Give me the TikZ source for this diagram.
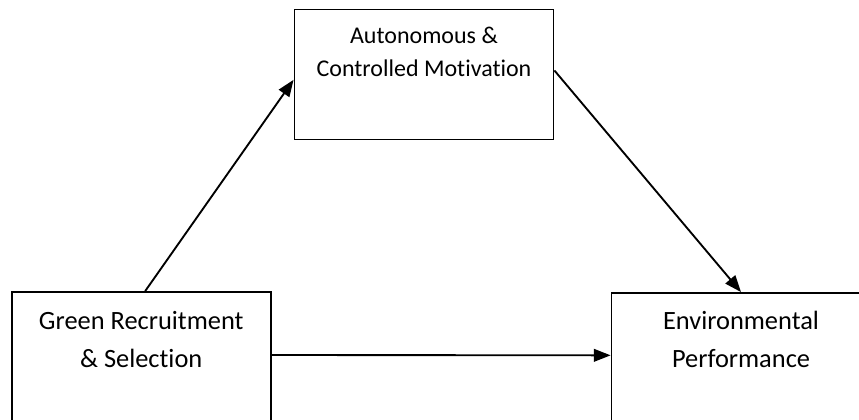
\documentclass[tikz,border=0pt]{standalone}
\usepackage{fontspec}
\setmainfont{Carlito}[Ligatures=NoCommon]
\usepackage{tikz}
\usetikzlibrary{arrows.meta,positioning,calc}
\tikzset{
  varbox/.style   = {rectangle, draw=black, line width=1.4pt, fill=white,
                      minimum width=194.25pt, minimum height=97.5pt, inner sep=0pt},
  vartext/.style  = {align=center, inner sep=0pt,
                      font=\fontsize{19.8pt}{28.5pt}\selectfont},
  vartop/.style   = {vartext, font=\fontsize{18pt}{24.75pt}\selectfont},
  parrow/.style   = {-{Triangle[length=12.5pt,width=9.5pt]}, line width=1.4pt, black},
}

\begin{document}
\begin{tikzpicture}[x=0.75pt, y=-0.75pt]
\useasboundingbox (0,0) rectangle (859,420);
\clip (0,0) rectangle (859,420);

% Three variable boxes
\node[varbox] (acm) at (424,74.5) {};
\node[varbox] (grs) at (141.2,357) {};
\node[varbox] (env) at (741,358) {};

% Box texts
\node[vartop,  below=14pt of acm.north] (acmtxt) {Autonomous \&\\Controlled Motivation};
\node[vartext, below=15pt of grs.north] (grstxt) {Green Recruitment\\\& Selection};
\node[vartext, below=14pt of env.north] (envtxt) {Environmental\\Performance};

% Paths
\draw[parrow] ([xshift=3pt]grs.north) -- ([yshift=-4pt]acm.west);
\draw[parrow] ([yshift=3pt]acm.east) -- (env.north);
\draw[parrow] ([yshift=1.5pt]grs.east) -- ([yshift=2pt]env.west);
\end{tikzpicture}
\end{document}
